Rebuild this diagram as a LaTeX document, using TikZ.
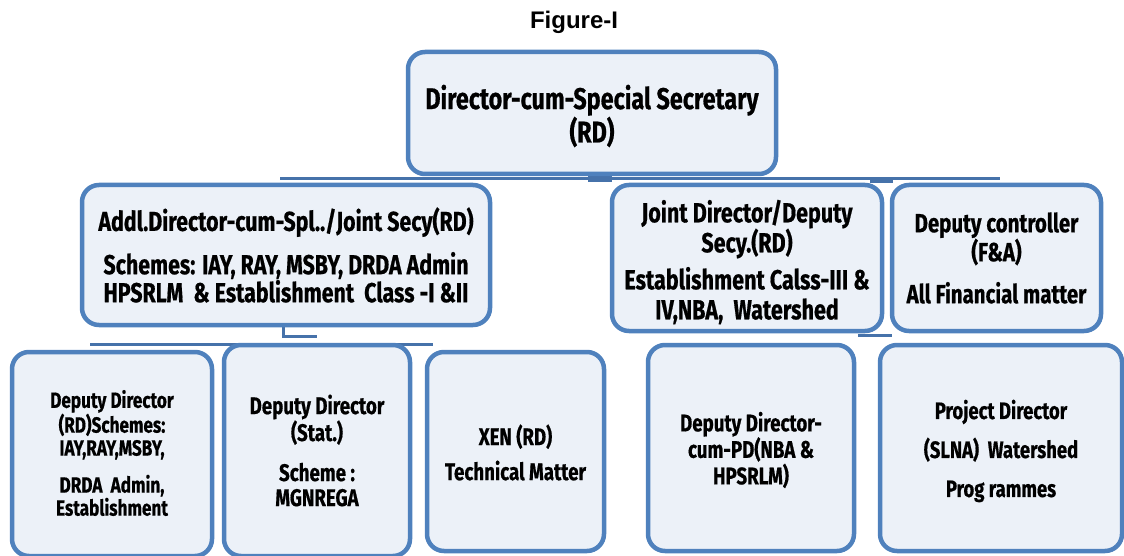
\documentclass[tikz,border=0pt]{standalone}
\usepackage{fontspec}
\setmainfont{Liberation Sans}
\newfontfamily\agency{Fira Sans}[FakeStretch=0.78,FakeBold=0.6]
\definecolor{boxblue}{RGB}{79,129,189}
\definecolor{lineblue}{RGB}{70,114,170}
\definecolor{boxfill}{RGB}{236,241,248}
\begin{document}
\begin{tikzpicture}[x=1pt,y=-1pt,
  box/.style={draw=boxblue, line width=4.5pt, rounded corners=17pt, fill=boxfill,
    inner sep=0pt},
  lbl/.style={inner sep=0pt, align=center, text=black},
  conn/.style={draw=lineblue, line width=3pt},
  stub/.style={fill=lineblue}]
\useasboundingbox (0,0) rectangle (1124,556);

% connector lines (behind the boxes)
\coordinate (l1a) at (280,179);
\coordinate (l1b) at (1000,179);
\draw[conn] (l1a) -- (l1b);
\coordinate (s1a) at (588,175);
\coordinate (s1b) at (612,182);
\fill[stub] (s1a) rectangle (s1b);
\coordinate (s2a) at (870,179);
\coordinate (s2b) at (893,183);
\fill[stub] (s2a) rectangle (s2b);

\coordinate (l2a) at (90,344);
\coordinate (l2b) at (433,344);
\draw[conn] (l2a) -- (l2b);
\coordinate (k1) at (283,326);
\coordinate (k2) at (283,336);
\coordinate (k3) at (317,336);
\draw[conn] (k1) -- (k2) -- (k3);
\coordinate (l3a) at (858,335);
\coordinate (l3b) at (892,335);
\draw[conn] (l3a) -- (l3b);

% title
\node[font=\bfseries\fontsize{24}{24}\selectfont] (title) at (574,22) {Figure-I};

% top
\node[box, minimum width=368pt, minimum height=122pt] (top) at (592,113) {};
\node[lbl, font=\agency\bfseries\fontsize{30}{31}\selectfont] (topT)
  at ([yshift=-3pt]top.center) {Director-cum-Special Secretary\\(RD)};

% second row
\node[box, minimum width=408pt, minimum height=140pt] (addl) at (286,255) {};
\node[lbl, font=\agency\bfseries\fontsize{27.4}{28}\selectfont] (addlT)
  at (addl.center)
  {Addl.Director-cum-Spl../Joint Secy(RD)\\[14pt]
   Schemes: IAY, RAY, MSBY, DRDA Admin\\
   HPSRLM\ \ \& Establishment\ \ Class -I \&II};
\node[box, minimum width=270pt, minimum height=146pt] (joint) at (747,258) {};
\node[lbl, font=\agency\bfseries\fontsize{27.6}{30}\selectfont] (jointT)
  at ([yshift=-4pt]joint.center)
  {Joint Director/Deputy\\Secy.(RD)\\[7pt]
   Establishment Calss-III \&\\IV,NBA,\ \ Watershed};
\node[box, minimum width=209pt, minimum height=146pt] (ctrl) at (996.5,258) {};
\node[lbl, font=\agency\bfseries\fontsize{26.2}{29}\selectfont] (ctrlT)
  at (ctrl.center)
  {Deputy controller\\(F\&A)\\[13pt]All Financial matter};

% third row
\node[box, minimum width=200pt, minimum height=204pt] (dd1) at (112,454) {};
\node[lbl, font=\agency\bfseries\fontsize{22}{23}\selectfont] (dd1T)
  at ([yshift=1pt]dd1.center)
  {Deputy Director\\(RD)Schemes:\\IAY,RAY,MSBY,\\[14pt]DRDA\ \ Admin,\\Establishment};
\node[box, minimum width=186pt, minimum height=211pt] (dd2) at (317,450.5) {};
\node[lbl, font=\agency\bfseries\fontsize{24}{25}\selectfont] (dd2T)
  at (dd2.center)
  {Deputy Director\\(Stat.)\\[15pt]Scheme :\\MGNREGA};
\node[box, minimum width=177pt, minimum height=199pt] (xen) at (515.5,451.5) {};
\node[lbl, font=\agency\bfseries\fontsize{24}{35}\selectfont] (xenT)
  at ([yshift=-1pt]xen.center)
  {XEN (RD)\\Technical Matter};
\node[box, minimum width=206pt, minimum height=206pt] (dd3) at (751,448) {};
\node[lbl, font=\agency\bfseries\fontsize{24}{26.5}\selectfont] (dd3T)
  at ([yshift=-2pt]dd3.center)
  {Deputy Director-\\cum-PD(NBA \&\\HPSRLM)};
\node[box, minimum width=242pt, minimum height=206pt] (pd) at (1001,448) {};
\node[lbl, font=\agency\bfseries\fontsize{23.7}{39}\selectfont] (pdT)
  at ([yshift=-3pt]pd.center)
  {Project Director\\(SLNA)\ \ Watershed\\Prog rammes};
\end{tikzpicture}
\end{document}
